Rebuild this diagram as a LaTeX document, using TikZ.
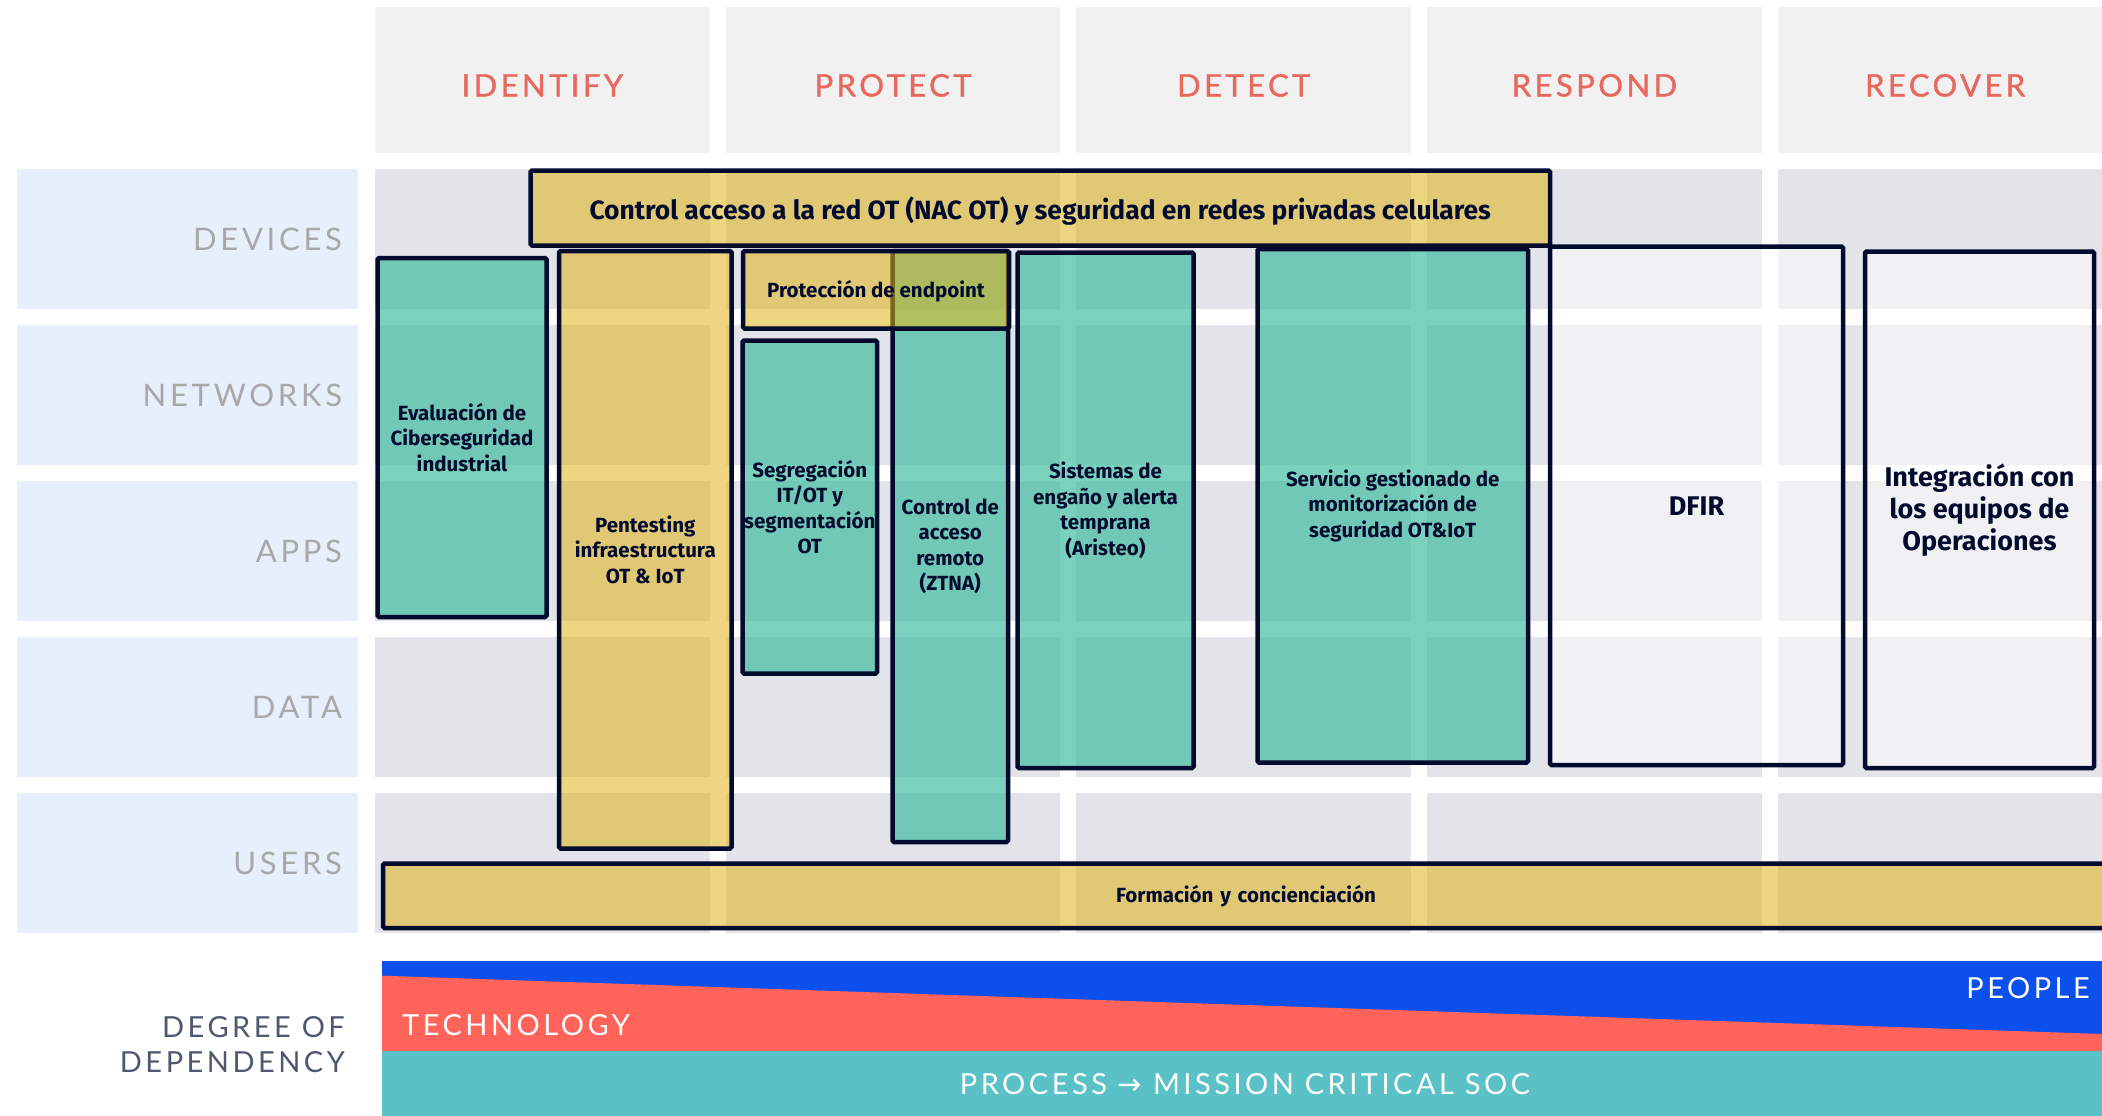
\documentclass[tikz,border=0pt]{standalone}
\usepackage{fontspec}
\setmainfont{Fira Sans}
\newfontfamily\capsfont[LetterSpace=12]{Lato}
\newfontfamily\headfont[LetterSpace=11,FakeBold=1.2]{Lato}
\newfontfamily\arrowfont{DejaVu Sans}
\usetikzlibrary{positioning}
\definecolor{headbg}{HTML}{F1F1F1}
\definecolor{headtxt}{HTML}{E8685E}
\definecolor{rowbg}{HTML}{E8EFFC}
\definecolor{rowtxt}{HTML}{A8A8A8}
\definecolor{cellbg}{HTML}{E3E4E9}
\definecolor{navy}{HTML}{020B2E}
\definecolor{tealfill}{HTML}{41BDA1}
\definecolor{yelfill}{HTML}{E0B216}
\definecolor{peopleblue}{HTML}{0B50EC}
\definecolor{techred}{HTML}{FF635A}
\definecolor{procteal}{HTML}{5AC1C6}
\definecolor{degtxt}{HTML}{4F5773}
\tikzset{
  headcell/.style={fill=headbg, minimum width=334.7pt, minimum height=146pt,
    inner sep=0pt, outer sep=0pt, text=headtxt, text height=33pt, text depth=0pt,
    font=\headfont\fontsize{31}{31}\selectfont},
  rowcell/.style={fill=rowbg, minimum height=140pt, text width=309pt,
    inner xsep=16pt, inner ysep=0pt, outer sep=0pt, align=right,
    text=rowtxt, font=\capsfont\fontsize{31}{31}\selectfont},
  gridcell/.style={fill=cellbg, minimum width=334.7pt, minimum height=140pt,
    inner sep=0pt, outer sep=0pt},
  box/.style={draw=navy, line width=4.5pt, rounded corners=1.5pt,
    inner sep=0pt, outer sep=0pt, align=center, text=navy, text opacity=1,
    font=\bfseries\fontsize{20.5}{25.5}\selectfont},
  tealbox/.style={box, fill=tealfill, fill opacity=0.7},
  yelbox/.style={box, fill=yelfill, fill opacity=0.55},
  openbox/.style={box, fill=white, fill opacity=0.5,
    font=\bfseries\fontsize{27}{32}\selectfont},
  charttxt/.style={inner sep=0pt, text=white,
    font=\capsfont\fontsize{29}{29}\selectfont},
}
\begin{document}
\begin{tikzpicture}[x=1pt, y=-1pt]
  \clip (0,0) rectangle (2102,1116);

  % function headers
  \node[headcell] (hid) at (542.35,80) {IDENTIFY};
  \node[headcell, right=16pt of hid] (hpr) {PROTECT};
  \node[headcell, right=16pt of hpr] (hde) {DETECT};
  \node[headcell, right=16pt of hde] (hre) {RESPOND};
  \node[headcell, right=16pt of hre] (hrc) {RECOVER};

  % asset rows
  \node[rowcell] (rdev) at (187.5,239) {DEVICES};
  \node[rowcell, below=16pt of rdev] (rnet) {NETWORKS};
  \node[rowcell, below=16pt of rnet] (rapp) {APPS};
  \node[rowcell, below=16pt of rapp] (rdat) {DATA};
  \node[rowcell, below=16pt of rdat] (rusr) {USERS};

  % grid
  \foreach \i in {0,...,4}
    \foreach \j in {0,...,4}
      \node[gridcell] (g\i\j) at ({542.35+350.7*\i},{239+156*\j}) {};

  % services
  \node[tealbox, minimum width=169pt, minimum height=359pt] (eval) at (462,437.5)
    {Evaluación de\\Ciberseguridad\\industrial};
  \node[yelbox, minimum width=172.5pt, minimum height=597.5pt] (pent) at (645.25,549.75)
    {Pentesting\\infraestructura\\OT \& IoT};
  \node[tealbox, minimum width=134.5pt, minimum height=333pt] (segr) at (809.75,507)
    {Segregación\\IT/OT y\\segmentación\\OT};
  \node[tealbox, minimum width=115.5pt, minimum height=591pt] (ztna) at (950.25,546.5)
    {Control de\\acceso\\remoto\\(ZTNA)};
  \node[yelbox, minimum width=266pt, minimum height=77.5pt, text depth=2pt] (endp) at (876,289.75)
    {Protección de endpoint};
  \node[yelbox, minimum width=1019.5pt, minimum height=75pt, text depth=0pt,
    font=\bfseries\fontsize{26.4}{30}\selectfont] (nac) at (1040.25,208)
    {Control acceso a la red OT (NAC OT) y seguridad en redes privadas celulares};
  \node[tealbox, minimum width=176pt, minimum height=515.5pt] (dece) at (1105.5,510.25)
    {Sistemas de\\engaño y alerta\\temprana\\(Aristeo)};
  \node[tealbox, minimum width=270.5pt, minimum height=513.5pt] (moni) at (1392.75,505.75)
    {Servicio gestionado de\\monitorización de\\seguridad OT\&IoT};
  \node[openbox, minimum width=293pt, minimum height=518.5pt] (dfir) at (1696.5,505.75)
    {DFIR};
  \node[openbox, minimum width=229pt, minimum height=516.5pt] (oper) at (1979.5,509.75)
    {Integración con\\los equipos de\\Operaciones};
  \node[yelbox, minimum width=1732pt, minimum height=64.5pt, text width=1732pt] (form) at (1249,895.75)
    {\hspace*{-6pt}Formación y concienciación};

  % degree of dependency
  \node[anchor=east, align=right, inner sep=0pt, text=degtxt,
    font=\capsfont\fontsize{29}{35}\selectfont] (deg) at (345,1044.5)
    {DEGREE OF\\DEPENDENCY};
  \fill[peopleblue] (382,961) rectangle (2102,1116);
  \fill[techred] (382,975.7) -- (2102,1034) -- (2102,1051) -- (382,1051) -- cycle;
  \fill[procteal] (382,1051) rectangle (2102,1116);
  \node[charttxt, anchor=west] (tech) at (402,1025.5) {TECHNOLOGY};
  \node[charttxt, anchor=east] (peop) at (2090,988) {PEOPLE};
  \node[charttxt] (proc) at (1245,1084.5) {PROCESS {\arrowfont →} MISSION CRITICAL SOC};
\end{tikzpicture}
\end{document}
